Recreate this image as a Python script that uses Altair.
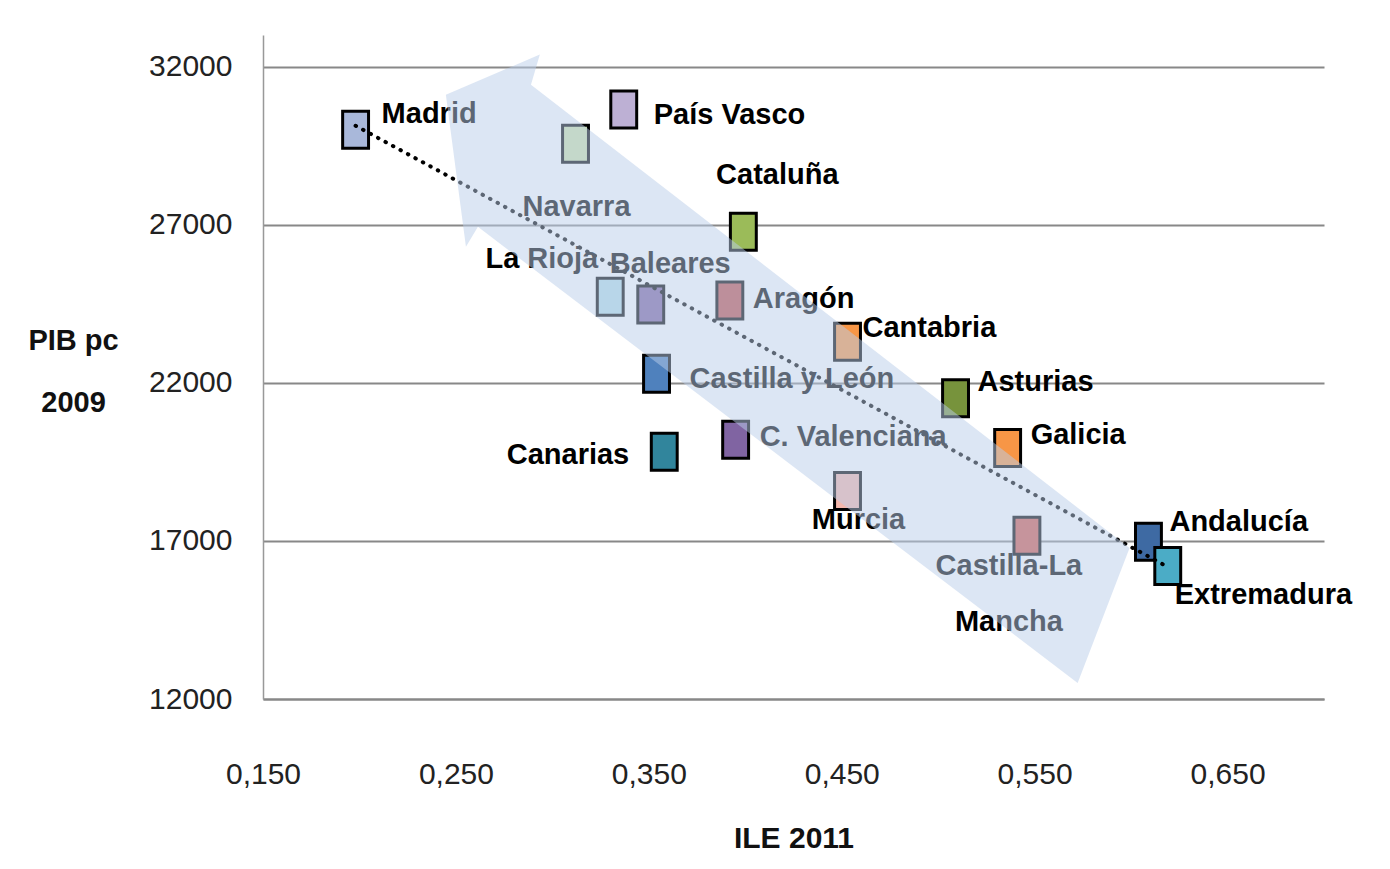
import altair as alt
import pandas as pd

# ---------------- data ----------------
regions = ["Madrid", "País Vasco", "Navarra", "Cataluña", "La Rioja", "Baleares",
           "Aragón", "Cantabria", "Castilla y León", "Asturias", "Galicia",
           "C. Valenciana", "Canarias", "Murcia", "Castilla-La Mancha",
           "Andalucía", "Extremadura"]
ile_2011 = [0.198, 0.337, 0.312, 0.399, 0.330, 0.351, 0.392, 0.453, 0.354, 0.509,
            0.536, 0.395, 0.358, 0.453, 0.546, 0.609, 0.619]
pib_pc_2009 = [30000, 30640, 29560, 26780, 24720, 24480, 24600, 23300, 22290, 21510,
               19940, 20200, 19820, 18580, 17160, 16970, 16210]
label_text = ["Madrid", "País Vasco", "Navarra", "Cataluña", "La Rioja", "Baleares",
              "Aragón", "Cantabria", "Castilla y León", "Asturias", "Galicia",
              "C. Valenciana", "Canarias", "Murcia", "Castilla-La\nMancha",
              "Andalucía", "Extremadura"]

x_ticks = [0.15, 0.25, 0.35, 0.45, 0.55, 0.65]
y_ticks = [12000, 17000, 22000, 27000, 32000]

# decorative arrow outline (data space)
arrow_x = [0.2448, 0.2935, 0.2889, 0.5992, 0.5723, 0.2614, 0.2552]
arrow_y = [31114, 32380, 31430, 16778, 12506, 26937, 26304]

# ---------------- styles ----------------
colors = ["#A9B8DA", "#BDB0D4", "#CFE3AB", "#9BBB59", "#B7DEE8", "#8064A2",
          "#C0504D", "#F79646", "#4F81BD", "#77933C", "#F79646",
          "#8064A2", "#31859C", "#F5B7AC", "#D25A4E", "#3E6AA3", "#4BACC6"]

# label placement relative to each marker: (dx, dy, align)
label_pos = {
    "Madrid": (26, -16, "left"),
    "País Vasco": (30, 5, "left"),
    "Navarra": (1, 63, "center"),
    "Cataluña": (34, -57, "center"),
    "La Rioja": (-12, -38, "right"),
    "Baleares": (-41, -40, "left"),
    "Aragón": (23, -2, "left"),
    "Cantabria": (15, -14, "left"),
    "Castilla y León": (33, 5, "left"),
    "Asturias": (22, -16, "left"),
    "Galicia": (23, -13, "left"),
    "C. Valenciana": (24, -3, "left"),
    "Canarias": (-35, 3, "right"),
    "Murcia": (11, 29, "center"),
    "Castilla-La Mancha": (-18, 30, "center"),
    "Andalucía": (21, -20, "left"),
    "Extremadura": (7, 29, "left"),
}

FONT = "Liberation Sans, Arial, sans-serif"

df = pd.DataFrame({"region": regions, "ile": ile_2011, "pib": pib_pc_2009,
                   "label": label_text})
arrow_df = pd.DataFrame({"ax": arrow_x, "ay": arrow_y, "i": list(range(len(arrow_x)))})

xscale = alt.Scale(domain=[0.15, 0.70], nice=False, zero=False)
yscale = alt.Scale(domain=[12000, 33000], nice=False, zero=False)

x_enc = alt.X("ile:Q", scale=xscale, axis=alt.Axis(
    values=x_ticks, labelExpr="replace(format(datum.value, '.3f'), '.', ',')",
    grid=False, ticks=False, domain=True, domainColor="#888888", domainWidth=2,
    labelFontSize=30, labelFont=FONT, labelColor="#222222", labelPadding=60,
    labelBaseline="top", labelFlush=False, labelOverlap=False,
    title="ILE 2011", titleFont=FONT, titleFontSize=30, titleFontWeight="bold",
    titleColor="#111111", titleY=139, titleBaseline="middle"))
y_enc = alt.Y("pib:Q", scale=yscale, axis=alt.Axis(
    values=y_ticks, format="d", grid=True, gridColor="#888888", gridWidth=2,
    ticks=False, domain=True, domainColor="#999999", domainWidth=1.5,
    labelFontSize=30, labelFont=FONT, labelColor="#222222", labelPadding=31,
    labelFlush=False, labelOverlap=False,
    title=["PIB pc", "2009"], titleAngle=0, titleAlign="center",
    titleBaseline="middle", titleX=-190, titleY=305, titleLineHeight=62,
    titleFont=FONT, titleFontSize=29, titleFontWeight="bold", titleColor="#111111"))

base = alt.Chart(df)

points = base.mark_point(
    shape="M-0.7,-1L0.7,-1L0.7,1L-0.7,1Z", size=1369, filled=True,
    stroke="#000000", strokeWidth=3, opacity=1
).encode(
    x=x_enc, y=y_enc,
    color=alt.Color("region:N", scale=alt.Scale(domain=regions, range=colors), legend=None),
)

trend = base.transform_regression("ile", "pib").mark_line(
    color="#000000", strokeWidth=4, strokeDash=[0.5, 8], strokeCap="round"
).encode(x=alt.X("ile:Q", scale=xscale), y=alt.Y("pib:Q", scale=yscale))

label_layers = []
for reg, (dx, dy, align) in label_pos.items():
    label_layers.append(
        base.transform_filter(alt.datum.region == reg).mark_text(
            dx=dx, dy=dy, align=align, baseline="middle", font=FONT, fontSize=29,
            fontWeight="bold", color="#000000", lineBreak="\n", lineHeight=56
        ).encode(x=alt.X("ile:Q", scale=xscale), y=alt.Y("pib:Q", scale=yscale),
                 text="label:N")
    )

arrow = alt.Chart(arrow_df).mark_line(
    filled=True, color="#B9CDE9", opacity=0.5, strokeWidth=0
).encode(
    x=alt.X("ax:Q", scale=xscale), y=alt.Y("ay:Q", scale=yscale), order="i:Q"
)

chart = alt.layer(points, trend, *label_layers, arrow).properties(
    width=1061, height=664,
    autosize=alt.AutoSizeParams(type="none"),
    padding={"left": 255, "top": 27, "right": 55, "bottom": 165},
    background="white",
    view=alt.ViewBackground(stroke="transparent", strokeWidth=0),
).configure(font=FONT).configure_view(strokeWidth=0, stroke="transparent")

chart.save("out.html", embed_options={"renderer": "svg", "actions": False})
